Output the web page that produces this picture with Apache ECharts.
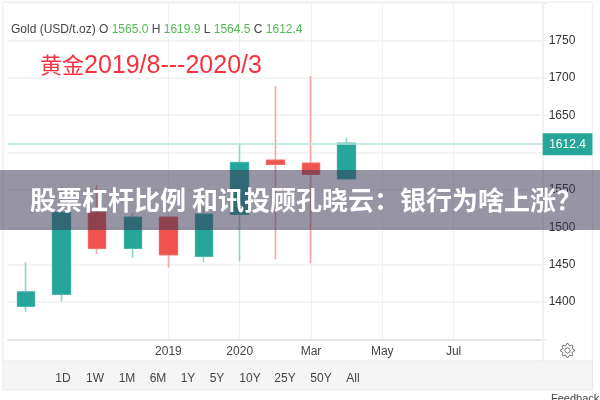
<!DOCTYPE html>
<html>
<head>
<meta charset="utf-8">
<style>
html, body { margin: 0; padding: 0; background: #fff; overflow: hidden; }
#chart { width: 600px; height: 400px; }
</style>
<script src="https://cdn.jsdelivr.net/npm/echarts@6/dist/echarts.min.js"></script>
</head>
<body>
<div id="chart"></div>
<script>
var xLabels = ['', '', '', '', '2019', '', '2020', '', 'Mar', '', 'May', '', 'Jul', '', ''];
var opens = [1394.2, 1410.3, 1519.6, 1471.9, 1513.4, 1461.2, 1517.4, 1589.7, 1585.7, 1565.0];
var closes = [1413.4, 1519.6, 1471.9, 1513.4, 1463.3, 1517.4, 1586.5, 1584.3, 1571.0, 1612.4];
var lows = [1387.0, 1400.4, 1464.3, 1459.3, 1445.9, 1453.6, 1454.5, 1457.2, 1451.8, 1564.5];
var highs = [1453.0, 1554.0, 1556.6, 1518.8, 1515.5, 1527.6, 1612.4, 1689.2, 1702.6, 1619.9];
var lastPrice = 1612.4;
var yLabels = [1400, 1450, 1500, 1550, 1650, 1700, 1750];
var rangeLabels = ['1D', '1W', '1M', '6M', '1Y', '5Y', '10Y', '25Y', '50Y', 'All'];
var rangeX = [63, 95, 127, 158, 188, 217, 250, 285, 321, 353];
var headerName = 'Gold (USD/t.oz)';
var headerValues = [['O', '1565.0'], ['H', '1619.9'], ['L', '1564.5'], ['C', '1612.4']];

var candles = opens.map(function (o, i) {
    return [o, closes[i], lows[i], highs[i]];
});
// bodies go on top of the pale wicks
var bodies = opens.map(function (o, i) {
    return [o, closes[i], Math.min(o, closes[i]), Math.max(o, closes[i])];
});

var font = 'Arial, "Liberation Sans", sans-serif';
var cjk = '"Noto Sans CJK SC", sans-serif';
var lineColor = '#f1f1f1';

var headerText = headerName;
headerValues.forEach(function (h) {
    headerText += ' ' + h[0] + ' {g|' + h[1] + '}';
});

function frameLine(x1, y1, x2, y2, width) {
    return {
        type: 'line',
        z: 1,
        shape: { x1: x1, y1: y1, x2: x2, y2: y2 },
        style: { stroke: lineColor, lineWidth: width }
    };
}

function gearPoints(cx, cy) {
    var pts = [];
    for (var i = 0; i < 32; i++) {
        var r = (i % 4 < 2) ? 7 : 5.2;
        var a = (i + 0.5 - 1) * Math.PI / 16;
        pts.push([cx + r * Math.cos(a), cy + r * Math.sin(a)]);
    }
    return pts;
}

var graphics = [
    frameLine(3, 2, 592.5, 2, 1.5),
    frameLine(3, 2, 3, 361, 1.5),
    frameLine(592.5, 2, 592.5, 361, 1.5),
    frameLine(543, 3, 543, 361, 2),
    {
        type: 'rect',
        z: 1,
        shape: { x: 3, y: 361, width: 589.5, height: 29 },
        style: { fill: '#f5f5f5', stroke: '#e8e8e8', lineWidth: 1 }
    },
    {
        type: 'text',
        z: 5,
        left: 11,
        top: 24,
        style: {
            text: headerText,
            font: '12px ' + font,
            fill: '#444444',
            rich: { g: { fill: '#53b953', font: '12px ' + font } }
        }
    },
    {
        type: 'text',
        z: 5,
        left: 40,
        top: 54,
        style: {
            text: '{a|黄金}{b|2019/8---2020/3}',
            fill: '#f5333f',
            rich: {
                a: { fill: '#f5333f', font: '22px ' + cjk, verticalAlign: 'top', padding: [0, 0, 3, 0] },
                b: { fill: '#f5333f', font: '25px ' + font }
            }
        }
    },
    {
        type: 'polygon',
        z: 5,
        shape: { points: gearPoints(567.5, 350.5) },
        style: { fill: 'none', stroke: '#777777', lineWidth: 1 }
    },
    {
        type: 'circle',
        z: 5,
        shape: { cx: 567.5, cy: 350.5, r: 2.6 },
        style: { fill: 'none', stroke: '#777777', lineWidth: 1 }
    },
    {
        type: 'text',
        z: 5,
        left: 551,
        top: 393,
        style: { text: 'Feedback', font: '11px ' + font, fill: '#444444' }
    },
    {
        type: 'rect',
        z: 50,
        shape: { x: 0, y: 170, width: 600, height: 60 },
        style: { fill: 'rgba(55,50,80,0.52)' }
    },
    {
        type: 'text',
        z: 51,
        left: 30,
        top: 187,
        style: {
            text: '股票杠杆比例 和讯投顾孔晓云：银行为啥上涨？',
            font: 'bold 26px ' + cjk,
            fill: '#ffffff'
        }
    }
];

rangeLabels.forEach(function (r, i) {
    graphics.push({
        type: 'text',
        z: 5,
        x: rangeX[i],
        y: 378.5,
        style: {
            text: r,
            font: '12px ' + font,
            fill: '#444444',
            align: 'center',
            verticalAlign: 'middle'
        }
    });
});

var chart = echarts.init(document.getElementById('chart'));

chart.setOption({
    animation: false,
    backgroundColor: '#ffffff',
    grid: { left: 8, top: 3.2, width: 534.7, height: 336.1 },
    xAxis: {
        type: 'category',
        data: xLabels,
        axisLine: { lineStyle: { color: '#e6e6e6', width: 2 } },
        axisTick: { show: false },
        axisLabel: {
            interval: 0,
            margin: 6,
            color: '#444444',
            fontSize: 12,
            fontFamily: font
        },
        splitLine: {
            show: true,
            alignWithLabel: true,
            interval: function (index, value) {
                return value !== '';
            },
            lineStyle: { color: '#eef1f6', width: 1 }
        }
    },
    yAxis: {
        type: 'value',
        position: 'right',
        min: 1350,
        max: 1800,
        interval: 50,
        axisLine: { show: false },
        axisTick: { show: true, length: 4, lineStyle: { color: '#e6e6e6' } },
        axisLabel: {
            margin: 6,
            color: '#333333',
            fontSize: 12,
            fontFamily: font,
            formatter: function (value) {
                return yLabels.indexOf(value) >= 0 ? String(value) : '';
            }
        },
        splitLine: { lineStyle: { color: '#f0f0f0', width: 1.5 } }
    },
    graphic: graphics,
    series: [
        {
            type: 'candlestick',
            data: candles,
            barWidth: 18,
            itemStyle: {
                color: '#26a69a',
                color0: '#ef5350',
                borderColor: '#8fd3ca',
                borderColor0: '#f8a5a3',
                borderWidth: 1.6
            },
            markLine: {
                silent: true,
                symbol: 'none',
                animation: false,
                lineStyle: { color: '#b5e2dc', type: 'solid', width: 1.5 },
                label: {
                    show: true,
                    position: 'end',
                    distance: 0,
                    offset: [0, 1],
                    color: '#ffffff',
                    backgroundColor: '#26a69a',
                    fontSize: 12,
                    fontFamily: font,
                    padding: [5, 6.5],
                    formatter: function () {
                        return lastPrice.toFixed(1);
                    }
                },
                data: [{ yAxis: lastPrice }]
            }
        },
        {
            type: 'candlestick',
            data: bodies,
            barWidth: 18,
            itemStyle: {
                color: '#26a69a',
                color0: '#ef5350',
                borderColor: '#3aaea3',
                borderColor0: '#f2635f',
                borderWidth: 1
            }
        }
    ]
});
</script>
</body>
</html>
